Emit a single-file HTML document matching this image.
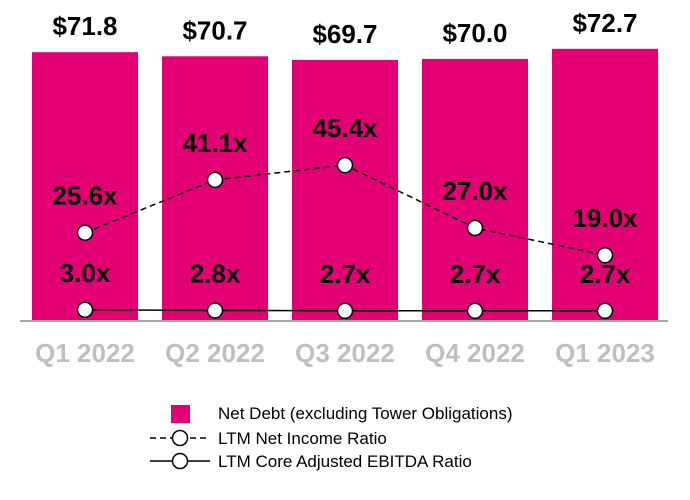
<!DOCTYPE html>
<html><head><meta charset="utf-8"><style>
body{margin:0;background:#fff;}
svg{display:block;font-family:"Liberation Sans",Arial,sans-serif;}
</style></head><body>
<svg id="chart" width="690" height="500"></svg>
<script>
const categories=["Q1 2022","Q2 2022","Q3 2022","Q4 2022","Q1 2023"];
const netDebt=[71.8,70.7,69.7,70.0,72.7];
const netDebtLabels=["$71.8","$70.7","$69.7","$70.0","$72.7"];
const netIncomeRatio=[25.6,41.1,45.4,27.0,19.0];
const ebitdaRatio=[3.0,2.8,2.7,2.7,2.7];
const NS="http://www.w3.org/2000/svg";
const svg=document.getElementById('chart');
const base=320,barScale=3.73,lineScale=3.41,lineZero=320;
const xc=i=>85+i*130;
const yBar=v=>base-v*barScale;
const yLine=v=>lineZero-v*lineScale;
function mk(t,a,p){const e=document.createElementNS(NS,t);for(const k in a)e.setAttribute(k,a[k]);(p||svg).appendChild(e);return e;}
categories.forEach((c,i)=>{
  const r=mk('rect',{x:xc(i)-53,y:yBar(netDebt[i]),width:106,height:base-yBar(netDebt[i]),fill:'#E20074'});
  
  
  const t=mk('text',{x:xc(i),y:yBar(netDebt[i])-17,'text-anchor':'middle','font-size':26,'font-weight':'bold',fill:'#000'});
  t.textContent=netDebtLabels[i];
  
  
  const xl=mk('text',{x:xc(i),y:362,'text-anchor':'middle','font-size':26,'font-weight':'bold',fill:'#bfbfbf'});
  xl.textContent=c;
  
  
});
const ax=mk('line',{x1:20,y1:321,x2:668,y2:321,stroke:'#a6a6a6','stroke-width':2});


function series(vals,dash,name){
  const p=mk('polyline',{points:vals.map((v,i)=>xc(i)+','+yLine(v)).join(' '),fill:'none',stroke:'#000','stroke-width':1.5,'stroke-dasharray':dash});
  
  
  vals.forEach((v,i)=>{
    const c=mk('circle',{cx:xc(i),cy:yLine(v),r:7.5,fill:'#fff',stroke:'#000','stroke-width':1.5});
    
    
    const t=mk('text',{x:xc(i),y:yLine(v)-28,'text-anchor':'middle','font-size':26,'font-weight':'bold',fill:'#000'});
    t.textContent=v.toFixed(1)+'x';
    
    
  });
}
series(netIncomeRatio,'6,4','net-income-ratio');
series(ebitdaRatio,'none','ebitda-ratio');
const lg=mk('g',{});


mk('rect',{x:171,y:405,width:19,height:18,fill:'#E20074'},lg);
mk('line',{x1:150,y1:438,x2:210,y2:438,stroke:'#000','stroke-width':1.5,'stroke-dasharray':'6,4'},lg);
mk('circle',{cx:180,cy:438,r:7.5,fill:'#fff',stroke:'#000','stroke-width':1.5},lg);
mk('line',{x1:150,y1:461,x2:210,y2:461,stroke:'#000','stroke-width':1.5},lg);
mk('circle',{cx:180,cy:461,r:7.5,fill:'#fff',stroke:'#000','stroke-width':1.5},lg);
[["Net Debt (excluding Tower Obligations)",419],["LTM Net Income Ratio",444],["LTM Core Adjusted EBITDA Ratio",467]].forEach(([s,y])=>{
  const t=mk('text',{x:218,y:y,'font-size':17,fill:'#000'},lg);t.textContent=s;
  
  
});
</script>
</body></html>
